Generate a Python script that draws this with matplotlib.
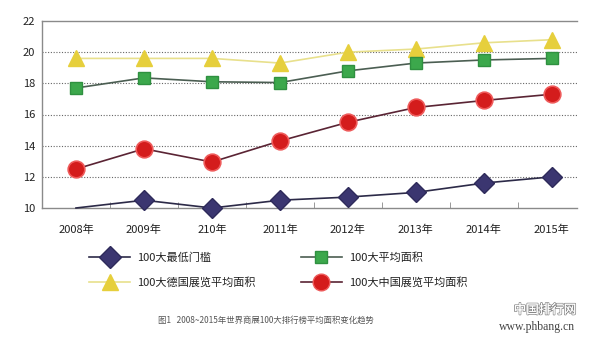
import matplotlib.pyplot as plt
from matplotlib.lines import Line2D
import matplotlib.patheffects as pe

plt.rcParams["font.family"] = ["Noto Sans CJK SC", "DejaVu Sans"]

years = ["2008年", "2009年", "210年", "2011年", "2012年", "2013年", "2014年", "2015年"]
min_threshold = [10.0, 10.5, 10.0, 10.5, 10.7, 11.0, 11.6, 12.0]
avg_area = [17.7, 18.35, 18.1, 18.05, 18.8, 19.3, 19.5, 19.6]
germany_avg = [19.6, 19.6, 19.6, 19.3, 20.0, 20.2, 20.6, 20.8]
china_avg = [12.5, 13.8, 12.95, 14.3, 15.5, 16.45, 16.9, 17.3]

labels = ["100大最低门槛", "100大平均面积", "100大德国展览平均面积", "100大中国展览平均面积"]

fig = plt.figure(figsize=(6, 3.39), dpi=100)
ax = fig.add_axes([42 / 600, 1 - 208 / 339, 535 / 600, 187 / 339])

x = list(range(len(years)))

ax.plot(x, germany_avg, color="#e8e08c", lw=1.2, marker="^", ms=11,
        mfc="#e6cf3c", mec="#e6cf3c", zorder=3)
ax.plot(x, avg_area, color="#4b5e52", lw=1.2, marker="s", ms=8,
        mfc="#3ca84c", mec="#2f9040", zorder=3)
ax.plot(x, china_avg, color="#5a2434", lw=1.2, marker="o", ms=12,
        mfc="#d41c1c", mec="#ee5a5a", mew=1.2, zorder=3)
# first year sits on the axis floor, so its diamond is left off
ax.plot(x, min_threshold, color="#2c2a48", lw=1.2, marker="D", ms=10,
        markevery=list(range(1, len(x))),
        mfc="#3b3670", mec="#2e2a5a", zorder=4, clip_on=False)

ax.set_xlim(-0.5, 7.37)
ax.set_ylim(10, 22)
ax.set_yticks([10, 12, 14, 16, 18, 20, 22])
ax.set_xticks(x)
ax.set_xticklabels(years)
ax.set_xticks([i + 0.5 for i in range(7)], minor=True)
ax.tick_params(axis="x", which="major", length=0, pad=12, labelsize=8, colors="#222222")
ax.tick_params(axis="x", which="minor", length=4, direction="in", color="#888888")
ax.tick_params(axis="y", length=0, pad=5, labelsize=8, colors="#222222")

for v in [12, 14, 16, 18, 20]:
    ax.axhline(v, color="#666666", lw=0.8, ls=(0, (1, 1.5)), zorder=1)

for side in ["top", "left", "bottom"]:
    ax.spines[side].set_color("#8a8a8a")
    ax.spines[side].set_linewidth(1.0)
ax.spines["right"].set_visible(False)

handles = [
    Line2D([], [], color="#2c2a48", lw=1.2, marker="D", ms=11, mfc="#3b3670", mec="#2e2a5a"),
    Line2D([], [], color="#4b5e52", lw=1.2, marker="s", ms=9, mfc="#3ca84c", mec="#2f9040"),
    Line2D([], [], color="#e8e08c", lw=1.2, marker="^", ms=12, mfc="#e6cf3c", mec="#e6cf3c"),
    Line2D([], [], color="#5a2434", lw=1.2, marker="o", ms=12, mfc="#d41c1c", mec="#ee5a5a"),
]
# legend fills column by column, so reorder to read row by row
order = [0, 2, 1, 3]
fig.legend([handles[i] for i in order], [labels[i] for i in order], ncol=2,
           loc="upper left", bbox_to_anchor=(79 / 600, 1 - 242 / 339), frameon=False,
           fontsize=8, handlelength=3.7, handletextpad=0.6,
           columnspacing=4.1, labelspacing=1.3, labelcolor="#222222")

fig.text(158 / 600, 1 - 320 / 339, "图1   2008~2015年世界商展100大排行榜平均面积变化趋势",
         fontsize=6, color="#555555", va="center")

fig.text(545 / 600, 1 - 310 / 339, "中国排行网", fontsize=9, color="white", ha="center",
         va="center", path_effects=[pe.withStroke(linewidth=1.2, foreground="#888888"),
                                    pe.Normal()])
fig.text(537 / 600, 1 - 327 / 339, "www.phbang.cn", fontsize=8.5, color="#444444",
         ha="center", va="center", family="Liberation Serif")

fig.savefig("out.png", dpi=100)
